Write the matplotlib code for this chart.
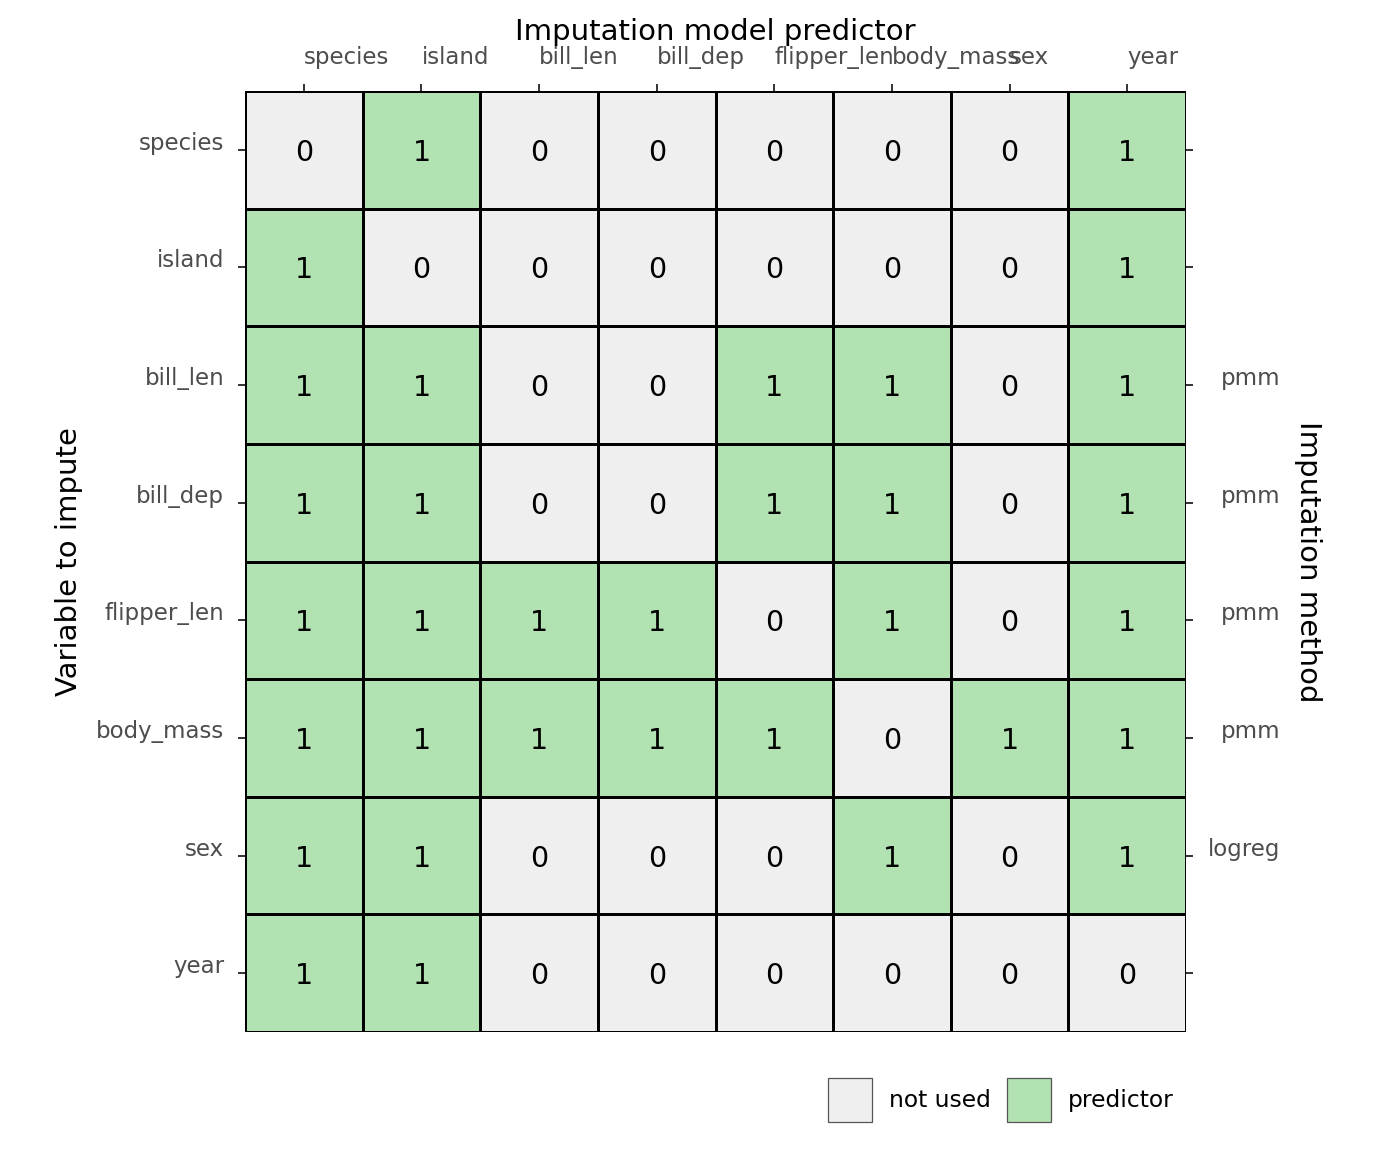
import numpy as np
import matplotlib
matplotlib.use("Agg")
from matplotlib import pyplot as plt
from matplotlib.colors import ListedColormap
from matplotlib.patches import Patch

variables = ["species", "island", "bill_len", "bill_dep", "flipper_len", "body_mass", "sex", "year"]
methods = ["", "", "pmm", "pmm", "pmm", "pmm", "logreg", ""]
pred = np.array([
    [0, 1, 0, 0, 0, 0, 0, 1],
    [1, 0, 0, 0, 0, 0, 0, 1],
    [1, 1, 0, 0, 1, 1, 0, 1],
    [1, 1, 0, 0, 1, 1, 0, 1],
    [1, 1, 1, 1, 0, 1, 0, 1],
    [1, 1, 1, 1, 1, 0, 1, 1],
    [1, 1, 0, 0, 0, 1, 0, 1],
    [1, 1, 0, 0, 0, 0, 0, 0],
])
legend_labels = ["not used", "predictor"]
col_gray = "#EFEFEF"
col_green = "#B2E2B2"

plt.rcParams["font.family"] = "DejaVu Sans"
fig = plt.figure(figsize=(13.82, 11.52), dpi=100)
ax = fig.add_axes([245/1382, 1-1032/1152, 941/1382, 941/1152])

n = len(variables)
ax.pcolormesh(np.arange(n+1), np.arange(n+1), pred, cmap=ListedColormap([col_gray, col_green]),
              vmin=0, vmax=1, edgecolors="black", linewidth=0.75)
ax.set_xlim(0, n)
ax.set_ylim(n, 0)
for i in range(n):
    for j in range(n):
        ax.text(j + 0.5, i + 0.5, str(pred[i, j]), ha="center", va="center_baseline", fontsize=20.5, color="black")

for s in ax.spines.values():
    s.set_visible(False)

tick_kw = dict(length=5, width=1.4, color="#333333", labelcolor="#4D4D4D", labelsize=16.5)

ax.set_xticks(np.arange(n) + 0.5)
ax.set_xticklabels(variables)
ax.xaxis.tick_top()
ax.xaxis.set_label_position("top")
ax.tick_params(axis="x", pad=11, **tick_kw)
for lab in ax.get_xticklabels():
    lab.set_ha("left")
ax.set_xlabel("Imputation model predictor", fontsize=21, labelpad=4)

ax.set_yticks(np.arange(n) + 0.5)
ax.set_yticklabels(variables)
ax.tick_params(axis="y", pad=10, **tick_kw)
for lab in ax.get_yticklabels():
    lab.set_va("baseline")
ax.set_ylabel("Variable to impute", fontsize=21, labelpad=9)

ax2 = ax.twinx()
ax2.set_ylim(n, 0)
ax2.set_yticks(np.arange(n) + 0.5)
ax2.set_yticklabels(methods)
ax2.tick_params(axis="y", pad=63, **tick_kw)
for lab in ax2.get_yticklabels():
    lab.set_ha("right")
    lab.set_va("baseline")
for s in ax2.spines.values():
    s.set_visible(False)
ax2.set_ylabel("Imputation method", fontsize=21, rotation=-90, labelpad=30)

handles = [Patch(facecolor=col_gray, edgecolor="#555555", linewidth=0.9),
           Patch(facecolor=col_green, edgecolor="#555555", linewidth=0.9)]
fig.legend(handles, legend_labels, loc="center left", bbox_to_anchor=(828/1382, 1-1100/1152),
           ncol=2, frameon=False, fontsize=16.8, handlelength=1.9, handleheight=2.55,
           handletextpad=0.7, columnspacing=0.7, borderpad=0, borderaxespad=0)

fig.savefig("out.png", dpi=100)
